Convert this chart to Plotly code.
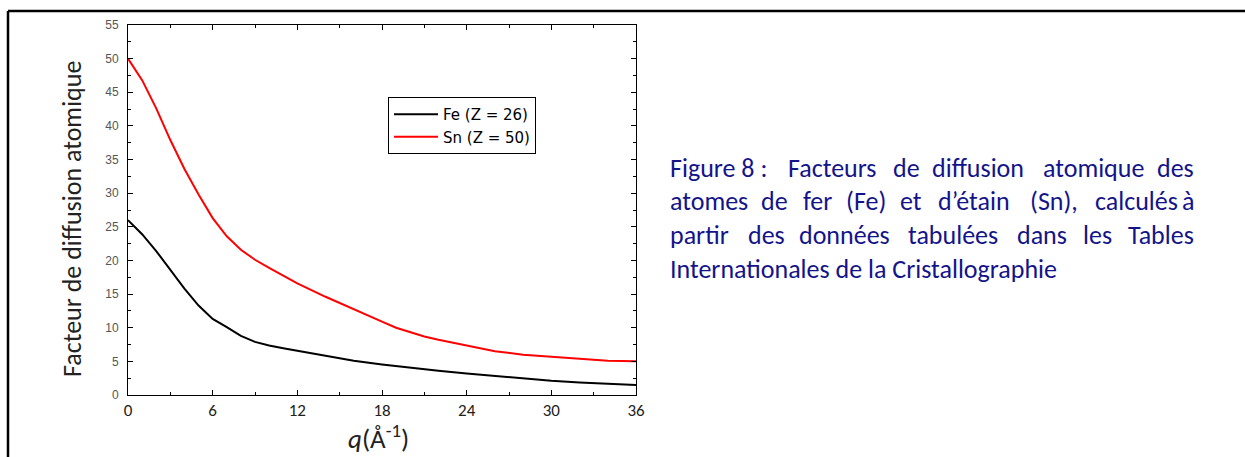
import plotly.graph_objects as go

# ---- data ----
q = [0, 1, 2, 3, 4, 5, 6, 7, 8, 9, 10, 11, 12, 14, 16, 18, 19, 20, 21, 22, 24, 26, 28, 30, 32, 34, 36]
f_fe = [26.0, 23.9, 21.4, 18.6, 15.8, 13.3, 11.3, 10.1, 8.8, 7.9, 7.35, 6.95, 6.6, 5.8, 5.1,
        4.55, 4.3, 4.0, 3.8, 3.6, 3.2, 2.8, 2.4, 2.1, 1.85, 1.65, 1.5]
f_sn = [50.0, 46.8, 42.6, 37.9, 33.6, 29.8, 26.3, 23.6, 21.6, 20.1, 18.9, 17.7, 16.6, 14.6, 12.7,
        10.9, 10.0, 9.3, 8.7, 8.2, 7.3, 6.5, 6.0, 5.7, 5.3, 5.1, 5.0]
names = ["Fe (Z = 26)", "Sn (Z = 50)"]
colors = ["#000000", "#ff0000"]
x_ticks = [0, 6, 12, 18, 24, 30, 36]
y_ticks = [0, 5, 10, 15, 20, 25, 30, 35, 40, 45, 50, 55]
y_title = "Facteur de diffusion atomique"
x_title = "<i>q</i>(Å<sup>-1</sup>)"
# justified caption: (word, x in px) per line; first word left edge, last word right edge,
# others centred; the last line is left-aligned
caption_words = [
    [("Figure 8 :", 668), ("Facteurs", 832), ("de", 906), ("diffusion", 978),
     ("atomique", 1093), ("des", 1196)],
    [("atomes", 668), ("de", 774), ("fer", 817), ("(Fe)", 866), ("et", 911),
     ("d\u2019étain", 974), ("(Sn),", 1054), ("calculés", 1136), ("à", 1196)],
    [("partir", 668), ("des", 766), ("données", 844), ("tabulées", 953),
     ("dans", 1042), ("les", 1097), ("Tables", 1196)],
]
caption_last = "Internationales de la Cristallographie"

W, H = 1245, 457
L, R, T, B = 128, 636, 25, 395  # plot area in pixels


def px(x):
    return (x - L) / (R - L)


def py(y):
    return (B - y) / (B - T)


fig = go.Figure()
for ys, nm, c in zip([f_fe, f_sn], names, colors):
    fig.add_trace(go.Scatter(x=q, y=ys, mode="lines", name=nm,
                             line=dict(color=c, width=2)))

axis_common = dict(showline=True, linecolor="#000000", linewidth=1, mirror="allticks",
                   ticks="inside", ticklen=5, tickcolor="#000000", showgrid=False,
                   zeroline=False)
fig.update_xaxes(range=[0, 36], tickvals=x_ticks,
                 tickfont=dict(family="Carlito, Lato, sans-serif", size=17, color="#222222"),
                 minor=dict(ticks="inside", ticklen=3, dtick=3, tickcolor="#000000"),
                 **axis_common)
fig.update_yaxes(range=[0, 55], tickvals=y_ticks, ticklabelstandoff=6,
                 tickfont=dict(family="Liberation Sans, Arial, sans-serif", size=12, color="#555555"),
                 minor=dict(ticks="inside", ticklen=3, dtick=2.5, tickcolor="#000000"),
                 **axis_common)

shapes = [
    # outer document frame: top and left edges
    dict(type="line", xref="paper", yref="paper", x0=px(8), x1=px(W + 5), y0=py(11), y1=py(11),
         line=dict(color="#000000", width=2.5)),
    dict(type="line", xref="paper", yref="paper", x0=px(8), x1=px(8), y0=py(11), y1=py(H + 5),
         line=dict(color="#000000", width=2.5)),
]

cap_font = dict(family="Carlito, Lato, sans-serif", size=26, color="#14148a")
annotations = [
    dict(text=y_title, xref="paper", yref="paper", x=px(72), y=py(219), textangle=-90,
         xanchor="center", yanchor="middle", showarrow=False,
         font=dict(family="Carlito, Lato, sans-serif", size=26, color="#222222")),
    dict(text=x_title, xref="paper", yref="paper", x=px(378), y=py(437),
         xanchor="center", yanchor="middle", showarrow=False,
         font=dict(family="Carlito, Lato, sans-serif", size=27, color="#222222")),
]
caption_y = [168, 201, 235, 269]
for words, yy in zip(caption_words, caption_y[:3]):
    n = len(words)
    for i, (w, cx) in enumerate(words):
        anchor = "left" if i == 0 else ("right" if i == n - 1 else "center")
        annotations.append(dict(text=w, xref="paper", yref="paper", x=px(cx), y=py(yy),
                                xanchor=anchor, yanchor="middle", showarrow=False,
                                font=cap_font))
annotations.append(dict(text=caption_last, xref="paper", yref="paper", x=px(668), y=py(caption_y[3]),
                        xanchor="left", yanchor="middle", showarrow=False, font=cap_font))

fig.update_layout(
    width=W, height=H,
    margin=dict(l=L, r=W - R, t=T, b=H - B, pad=0),
    paper_bgcolor="#ffffff", plot_bgcolor="#ffffff",
    showlegend=True,
    legend=dict(x=px(388), y=py(97), xanchor="left", yanchor="top",
                bgcolor="#ffffff", bordercolor="#000000", borderwidth=1,
                font=dict(family="DejaVu Sans, sans-serif", size=15, color="#000000"),
                itemwidth=44, tracegroupgap=0),
    shapes=shapes,
    annotations=annotations,
)

fig.write_html("out.html")
